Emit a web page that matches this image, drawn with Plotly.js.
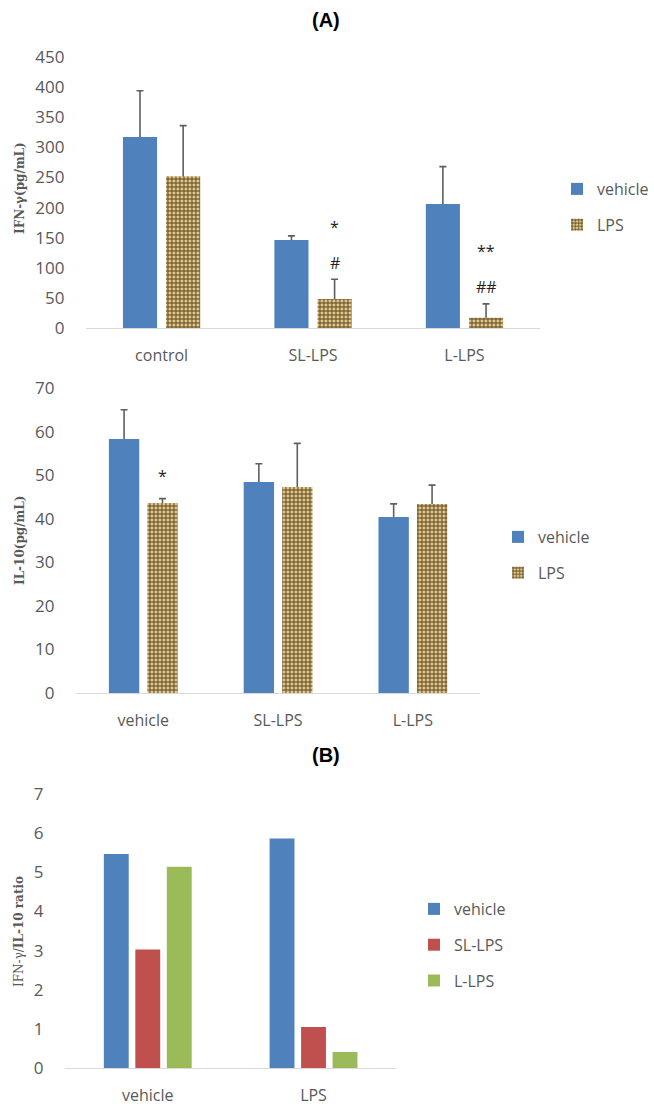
<!DOCTYPE html>
<html>
<head>
<meta charset="utf-8">
<script src="https://cdn.plot.ly/plotly-3.0.1.min.js"></script>
<style>html,body{margin:0;padding:0;background:#fff;}#chart{width:654px;height:1112px;}</style>
</head>
<body>
<div id="chart"></div>
<script>
// ---- Data ----
const ifnCategories = ['control', 'SL-LPS', 'L-LPS'];
const ifnVehicle = [317, 146, 206];
const ifnVehicleErr = [77, 7, 62];
const ifnLPS = [252, 48, 17];
const ifnLPSErr = [84, 33, 23];
const ifnSigStar = ['', '*', '**'];
const ifnSigStarY = [null, 168, 128];
const ifnSigHash = ['', '#', '##'];
const ifnSigHashY = [null, 108, 68];

const il10Categories = ['vehicle', 'SL-LPS', 'L-LPS'];
const il10Vehicle = [58.3, 48.4, 40.4];
const il10VehicleErr = [6.7, 4.2, 3.0];
const il10LPS = [43.6, 47.3, 43.4];
const il10LPSErr = [1.0, 10.0, 4.3];
const il10SigStar = ['*', '', ''];
const il10SigStarY = [49.8, null, null];

const ratioCategories = ['vehicle', 'LPS'];
const ratioVehicle = [5.47, 5.86];
const ratioSL = [3.03, 1.05];
const ratioL = [5.14, 0.41];

const seriesNames = ['vehicle', 'LPS'];
const ratioSeriesNames = ['vehicle', 'SL-LPS', 'L-LPS'];

// ---- Styles ----
const BLUE = '#4f81bd', RED = '#c0504d', GREEN = '#9bbb59';
const GRAY = '#595959', AXIS = '#d9d9d9', ERR = '#5f5f5f';
const FONT = 'Open Sans, Noto Sans, sans-serif';
const TAN = '#e3c98c';
const lpsPattern = {shape: '+', fgcolor: '#5c4820', bgcolor: TAN, size: 4, solidity: 0.45, fillmode: 'replace'};

// error-bar carrier: transparent bar under the real bar, same offset group,
// so only the part above the real bar shows.
function errTrace(x, y, err, xa, ya, grp) {
  return {type: 'bar', x: x, y: y, xaxis: xa, yaxis: ya, offsetgroup: grp, showlegend: false,
    marker: {color: 'rgba(0,0,0,0)', line: {width: 0}}, hoverinfo: 'skip',
    error_y: {type: 'data', symmetric: false, array: err, arrayminus: y,
              color: ERR, thickness: 1.6, width: 3.5}};
}

const traces = [
  errTrace(ifnCategories, ifnVehicle, ifnVehicleErr, 'x', 'y', 'a1'),
  {type: 'bar', name: seriesNames[0], x: ifnCategories, y: ifnVehicle, offsetgroup: 'a1',
   marker: {color: BLUE}, xaxis: 'x', yaxis: 'y', legend: 'legend', legendgroup: 'a1'},
  errTrace(ifnCategories, ifnLPS, ifnLPSErr, 'x', 'y', 'a2'),
  {type: 'bar', name: seriesNames[1], x: ifnCategories, y: ifnLPS, offsetgroup: 'a2',
   marker: {color: TAN, pattern: lpsPattern}, xaxis: 'x', yaxis: 'y', legend: 'legend', legendgroup: 'a2'},

  errTrace(il10Categories, il10Vehicle, il10VehicleErr, 'x2', 'y2', 'b1'),
  {type: 'bar', name: seriesNames[0], x: il10Categories, y: il10Vehicle, offsetgroup: 'b1',
   marker: {color: BLUE}, xaxis: 'x2', yaxis: 'y2', legend: 'legend2', legendgroup: 'b1'},
  errTrace(il10Categories, il10LPS, il10LPSErr, 'x2', 'y2', 'b2'),
  {type: 'bar', name: seriesNames[1], x: il10Categories, y: il10LPS, offsetgroup: 'b2',
   marker: {color: TAN, pattern: lpsPattern}, xaxis: 'x2', yaxis: 'y2', legend: 'legend2', legendgroup: 'b2'},

  {type: 'bar', name: ratioSeriesNames[0], x: ratioCategories, y: ratioVehicle, offsetgroup: 'c1',
   marker: {color: BLUE}, xaxis: 'x3', yaxis: 'y3', legend: 'legend3', legendgroup: 'c1'},
  {type: 'bar', name: ratioSeriesNames[1], x: ratioCategories, y: ratioSL, offsetgroup: 'c2',
   marker: {color: RED}, xaxis: 'x3', yaxis: 'y3', legend: 'legend3', legendgroup: 'c2'},
  {type: 'bar', name: ratioSeriesNames[2], x: ratioCategories, y: ratioL, offsetgroup: 'c3',
   marker: {color: GREEN}, xaxis: 'x3', yaxis: 'y3', legend: 'legend3', legendgroup: 'c3'}
];

function xax(domain, anchor) {
  return {domain: domain, anchor: anchor, type: 'category', showline: true, linecolor: AXIS, linewidth: 1.3,
          layer: 'above traces',
          showgrid: false, zeroline: false, ticks: 'outside', ticklen: 12, tickcolor: 'rgba(0,0,0,0)',
          tickfont: {family: FONT, size: 16, color: GRAY}, fixedrange: true};
}
function yax(domain, anchor, range, dtick) {
  return {domain: domain, anchor: anchor, range: range, dtick: dtick, showline: false, showgrid: false,
          zeroline: false, ticks: 'outside', ticklen: 17, tickcolor: 'rgba(0,0,0,0)',
          tickfont: {family: FONT, size: 17, color: GRAY}, fixedrange: true};
}

const W = 654, H = 1112;
const px = v => v / W, py = v => 1 - v / H;

const annotations = [];
annotations.push({text: '<b>(A)</b>', xref: 'paper', yref: 'paper', x: px(326), y: py(20), showarrow: false,
  font: {family: 'Liberation Sans, Arial, sans-serif', size: 20, color: '#000'}, xanchor: 'center', yanchor: 'middle'});
annotations.push({text: '<b>(B)</b>', xref: 'paper', yref: 'paper', x: px(326), y: py(755), showarrow: false,
  font: {family: 'Liberation Sans, Arial, sans-serif', size: 20, color: '#000'}, xanchor: 'center', yanchor: 'middle'});
annotations.push({text: '<b>IFN-γ(pg/mL)</b>', xref: 'paper', yref: 'paper', x: px(20), y: py(188), textangle: -90,
  showarrow: false, font: {family: 'DejaVu Serif, serif', size: 12, color: GRAY}, xanchor: 'center', yanchor: 'middle'});
annotations.push({text: '<b>IL-10(pg/mL)</b>', xref: 'paper', yref: 'paper', x: px(20), y: py(540), textangle: -90,
  showarrow: false, font: {family: 'DejaVu Serif, serif', size: 12, color: GRAY}, xanchor: 'center', yanchor: 'middle'});
annotations.push({text: 'IFN-γ/<b>IL-10 ratio</b>', xref: 'paper', yref: 'paper', x: px(19), y: py(931), textangle: -90,
  showarrow: false, font: {family: 'DejaVu Serif, serif', size: 12, color: GRAY}, xanchor: 'center', yanchor: 'middle'});

const off1 = (1 - 0.43) / 4, off2 = (1 - 0.42) / 4;
const sigFont = {family: FONT, size: 16, color: '#222'};
ifnCategories.forEach((c, i) => {
  if (ifnSigStar[i]) annotations.push({text: ifnSigStar[i], xref: 'x', yref: 'y', x: i + off1, y: ifnSigStarY[i],
    showarrow: false, font: sigFont});
  if (ifnSigHash[i]) annotations.push({text: ifnSigHash[i], xref: 'x', yref: 'y', x: i + off1, y: ifnSigHashY[i],
    showarrow: false, font: sigFont});
});
il10Categories.forEach((c, i) => {
  if (il10SigStar[i]) annotations.push({text: il10SigStar[i], xref: 'x2', yref: 'y2', x: i + off2, y: il10SigStarY[i],
    showarrow: false, font: sigFont});
});

const legendBase = {bgcolor: 'rgba(0,0,0,0)', font: {family: FONT, size: 16, color: GRAY}, tracegroupgap: 12,
  xanchor: 'left', yanchor: 'top', itemwidth: 30, traceorder: 'grouped'};

const layout = {
  width: W, height: H, margin: {l: 0, r: 0, t: 0, b: 0}, paper_bgcolor: '#fff', plot_bgcolor: '#fff',
  showlegend: true, barmode: 'group',
  xaxis: xax([px(86), px(541)], 'y'),
  yaxis: yax([py(328), py(57)], 'x', [0, 450], 50),
  xaxis2: xax([px(76), px(481)], 'y2'),
  yaxis2: yax([py(693), py(388)], 'x2', [0, 70], 10),
  xaxis3: xax([px(65), px(397)], 'y3'),
  yaxis3: yax([py(1068), py(794)], 'x3', [0, 7], 1),
  bargap: 0.43, bargroupgap: 0.21,
  legend: Object.assign({}, legendBase, {x: px(558), y: py(172)}),
  legend2: Object.assign({}, legendBase, {x: px(498), y: py(520)}),
  legend3: Object.assign({}, legendBase, {x: px(414), y: py(892)}),
  annotations: annotations
};

Plotly.newPlot('chart', traces, layout, {staticPlot: true, displayModeBar: false});
</script>
</body>
</html>
